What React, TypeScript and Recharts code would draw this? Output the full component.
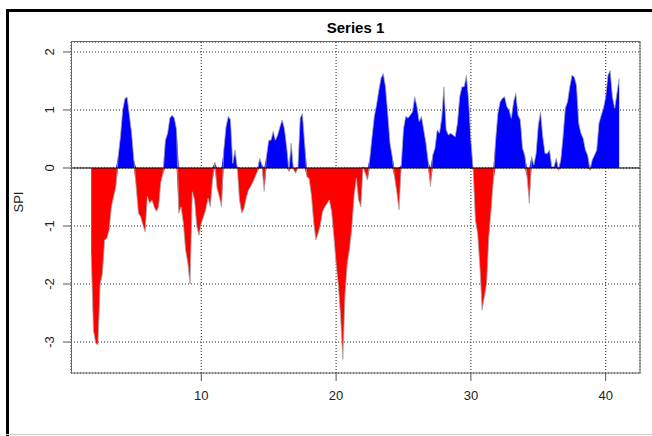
import {
  ComposedChart,
  Area,
  Line,
  XAxis,
  YAxis,
  CartesianGrid,
  ReferenceLine,
} from "recharts";

// SPI values, one every two months
const SPI = [
  -1.5, -2.8, -3.02, -3.05, -2.0, -1.82, -1.24, -1.21, -1.07, -0.67,
  -0.49, -0.32, 0.2, 0.54, 1.0, 1.2, 1.22, 0.91, 0.6, 0.14,
  -0.32, -0.78, -0.84, -0.98, -1.1, -0.49, -0.61, -0.55, -0.67, -0.75,
  -0.67, -0.24, -0.09, 0.48, 0.6, 0.86, 0.91, 0.86, 0.66, -0.78,
  -0.67, -0.95, -1.41, -1.64, -2.0, -0.41, -0.55, -1.01, -1.16, -0.95,
  -0.84, -0.72, -0.52, -0.67, -0.21, 0.1, -0.35, -0.49, -0.67, 0.31,
  0.71, 0.89, 0.83, 0.08, 0.31, 0.02, -0.55, -0.78, -0.7, -0.52,
  -0.38, -0.32, -0.24, -0.15, -0.06, 0.17, 0.05, -0.4, 0.2, 0.48,
  0.48, 0.63, 0.48, 0.57, 0.71, 0.83, 0.68, 0.37, -0.06, 0.43,
  -0.02, -0.09, 0.0, 0.86, 0.94, 0.43, -0.15, -0.18, -0.47, -0.93,
  -1.24, -1.13, -0.98, -0.75, -0.67, -0.61, -0.55, -0.75, -1.18, -1.64,
  -2.02, -2.56, -3.3, -2.16, -1.64, -1.39, -1.04, -0.49, -0.18, -0.55,
  -0.67, 0.02, -0.09, -0.21, 0.17, 0.54, 0.89, 1.09, 1.34, 1.55,
  1.63, 1.4, 0.94, 0.43, 0.2, -0.15, -0.41, -0.72, 0.05, 0.68,
  0.89, 0.86, 0.91, 0.97, 1.23, 1.06, 0.8, 0.89, 0.66, 0.43,
  0.11, -0.32, 0.22, 0.34, 0.66, 0.6, 0.86, 1.4, 0.66, 0.57,
  0.6, 0.57, 0.54, 0.77, 1.23, 1.4, 1.4, 1.6, 1.17, 0.48,
  -0.03, -0.9, -1.13, -1.7, -2.45, -2.22, -1.99, -1.18, -0.72, -0.21,
  0.48, 0.94, 1.14, 1.2, 1.23, 1.06, 1.0, 0.86, 1.14, 1.29,
  0.91, 0.83, 0.34, 0.22, -0.15, -0.61, 0.2, 0.05, 0.25, 0.74,
  0.97, 0.54, 0.25, 0.25, 0.31, 0.02, 0.02, 0.17, -0.04, 0.14,
  0.54, 1.03, 1.14, 1.4, 1.6, 1.57, 1.43, 0.77, 0.6, 0.51,
  0.31, 0.22, -0.04, 0.14, 0.22, 0.31, 0.77, 0.91, 1.03, 1.23,
  1.6, 1.68, 1.23, 1.03, 1.29, 1.55,
];

const TIME_START = 1.8333;
const TIME_STEP = 1 / 6;

const X_TICKS = [10, 20, 30, 40];
const Y_TICKS = [-3, -2, -1, 0, 1, 2];

const TITLE = "Series 1";
const Y_LABEL = "SPI";

const rows = SPI.map((v, i) => ({
  t: TIME_START + i * TIME_STEP,
  spi: v,
  pos: Math.max(v, 0),
  neg: Math.min(v, 0),
}));

const FONT = "'Liberation Sans', Arial, sans-serif";

// y tick labels in R are turned parallel to the axis
const YTick = (props: any) => {
  const { x, y, payload } = props;
  const cx = x - 7;
  return (
    <text
      x={cx}
      y={y}
      transform={`rotate(-90 ${cx} ${y})`}
      textAnchor="middle"
      fontSize={13}
      fontFamily={FONT}
      fill="#222"
    >
      {payload.value}
    </text>
  );
};

export default function App() {
  return (
    <div
      style={{
        position: "absolute",
        left: 0,
        top: 0,
        width: 652,
        height: 436,
        background: "#fff",
        overflow: "hidden",
      }}
    >
      <ComposedChart
        width={652}
        height={436}
        data={rows}
        margin={{ top: 42, right: 12, bottom: 0, left: 0 }}
      >
        <CartesianGrid stroke="#222" strokeDasharray="1 2" />
        <XAxis
          type="number"
          dataKey="t"
          domain={[0.334, 42.545]}
          ticks={X_TICKS}
          allowDataOverflow
          height={63}
          tickSize={8}
          tickMargin={10}
          axisLine={false}
          tickLine={{ stroke: "#555" }}
          tick={{ fontSize: 13, fontFamily: FONT, fill: "#222" }}
        />
        <YAxis
          type="number"
          domain={[-3.534, 2.172]}
          ticks={Y_TICKS}
          allowDataOverflow
          width={71}
          tickSize={8}
          axisLine={false}
          tickLine={{ stroke: "#555" }}
          tick={<YTick />}
        />
        <Area
          dataKey="pos"
          type="linear"
          fill="#0000ff"
          fillOpacity={1}
          stroke="none"
          isAnimationActive={false}
        />
        <Area
          dataKey="neg"
          type="linear"
          fill="#ff0000"
          fillOpacity={1}
          stroke="none"
          isAnimationActive={false}
        />
        <Line
          dataKey="spi"
          type="linear"
          stroke="#a8a8a8"
          strokeWidth={0.8}
          dot={false}
          isAnimationActive={false}
        />
        <ReferenceLine y={0} stroke="#000" strokeWidth={1} />
      </ComposedChart>

      {/* frame, plot box, title and axis label */}
      <svg
        width={652}
        height={436}
        style={{ position: "absolute", left: 0, top: 0, pointerEvents: "none" }}
      >
        <rect x={6} y={9} width={700} height={3} fill="#000" />
        <rect x={6} y={9} width={3} height={430} fill="#000" />
        <line x1={6} y1={434.5} x2={652} y2={434.5} stroke="#ccc" />
        <rect
          x={71.5}
          y={41.5}
          width={568.5}
          height={331.5}
          fill="none"
          stroke="#666"
        />
        <text
          x={355.5}
          y={33}
          textAnchor="middle"
          fontSize={15}
          fontWeight="bold"
          fontFamily={FONT}
          fill="#000"
        >
          {TITLE}
        </text>
        <text
          x={23}
          y={202}
          transform="rotate(-90 23 202)"
          textAnchor="middle"
          fontSize={13}
          fontFamily={FONT}
          fill="#222"
        >
          {Y_LABEL}
        </text>
      </svg>
    </div>
  );
}
